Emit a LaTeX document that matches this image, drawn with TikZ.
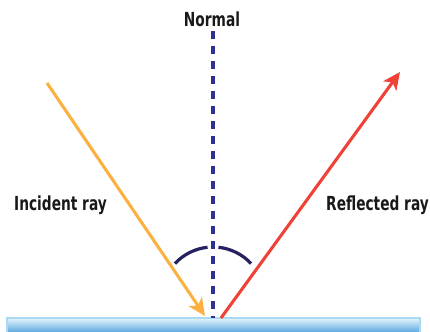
\documentclass[tikz,border=0pt]{standalone}
\usepackage{fontspec}
\usepackage{xcolor}
\usetikzlibrary{arrows.meta,positioning}
\newfontfamily\rlfont[FakeStretch=0.79]{DejaVu Sans Condensed Bold}
\definecolor{rlincident}{HTML}{FBB040}
\definecolor{rlreflect}{HTML}{EF4136}
\definecolor{rlnormal}{HTML}{2E3192}
\definecolor{rlangle}{HTML}{262261}
\definecolor{rlsurftop}{HTML}{E4F4FC}
\definecolor{rlsurfbot}{HTML}{5EAAE0}
\definecolor{rledge}{HTML}{A9DAF2}
\tikzset{
rllabel/.style={font=\rlfont\fontsize{14.5}{16}\selectfont,text=black!90,inner sep=0pt,anchor=base},
rlray/.style={line width=2.3pt,-{Stealth[length=13pt,width=12pt,inset=3.5pt]},shorten >=0pt},
rlnormalline/.style={rlnormal,line width=3.2pt,dash pattern=on 6pt off 5.25pt},
rlarc/.style={rlangle,line width=2.4pt},
rlsurface/.style={top color=rlsurftop,bottom color=rlsurfbot,draw=none}
}
\begin{document}
\begin{tikzpicture}[
x=0.75pt,
y=0.75pt
]
\useasboundingbox (0,0) rectangle (430,332);
% mirror surface
\shade[rlsurface] (7,0) rectangle (420,14);
\draw[rledge,line width=1pt] (7,0) -- (7,14) -- (420,14) -- (420,0);
% points on the rays
\coordinate (normtop) at (213,301);
\coordinate (normfoot) at (213,14);
\coordinate (incstart) at (47,249);
\coordinate (inchit) at (205,16);
\coordinate (refstart) at (221,14);
\coordinate (refend) at (400,260);
\coordinate (arcmid) at (213,33);
% labels
\node[rllabel] (normal) at (212,305) {Normal};
\node[rllabel] (incident) at (60.5,121) {Incident ray};
\node[rllabel] (reflected) at (377.5,121) {Reflected ray};
% normal and rays
\draw[rlnormalline] (normtop) -- (normfoot);
\draw[rlray,rlincident] (incstart) -- (inchit);
\draw[rlray,rlreflect] (refstart) -- (refend);
% angle marks
\draw[rlarc] ([shift={(137:52)}]arcmid) arc[start angle=137,end angle=96,radius=52];
\draw[rlarc] ([shift={(84:52)}]arcmid) arc[start angle=84,end angle=43,radius=52];
\end{tikzpicture}
\end{document}
